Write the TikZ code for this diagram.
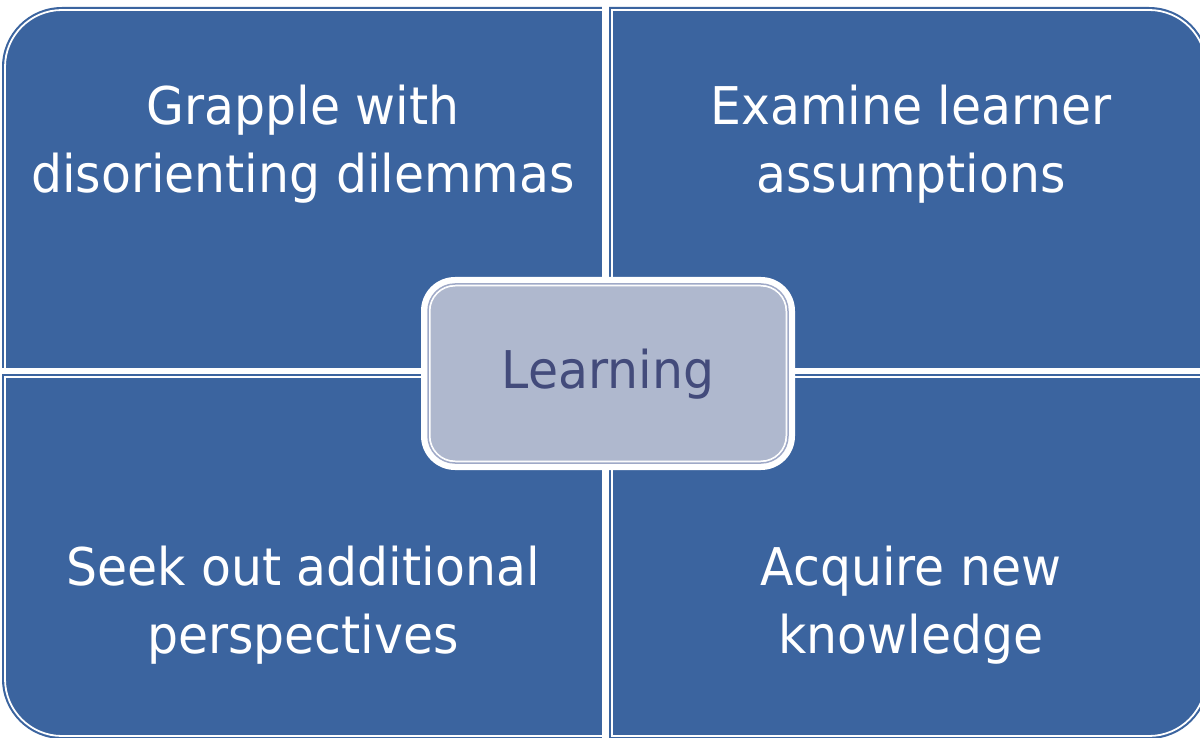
\documentclass[tikz,border=0pt]{standalone}
\usepackage{fontspec}
\newfontfamily\quadfont[FakeStretch=0.94]{DejaVu Sans}
\definecolor{quadblue}{HTML}{3B649F}
\definecolor{learnfill}{HTML}{AFB8CE}
\definecolor{learnline}{HTML}{9FA9C7}
\definecolor{learntext}{HTML}{434B7B}
\tikzset{
  quad/.style={fill=quadblue},
  quadinset/.style={draw=white, line width=1.8pt},
  quadtext/.style={text=white, align=center, inner sep=0pt, font=\quadfont\fontsize{52}{68}\selectfont},
  learnbox/.style={fill=learnfill, draw=white, line width=1pt, rounded corners=25pt,
    minimum width=356pt, minimum height=175pt, inner sep=0pt, text=learntext,
    font=\quadfont\fontsize{52}{68}\selectfont},
}
\begin{document}
\begin{tikzpicture}[x=1pt,y=-1pt]
\useasboundingbox (0,0) rectangle (1200,738);
\clip (0,0) rectangle (1200,738);
% quadrants
\fill[quad] (606,372) -- (2,372) -- (2,67) arc[start angle=180,end angle=270,radius=60] -- (606,7) -- cycle;
\draw[quadinset] (603,369) -- (5,369) -- (5,67) arc[start angle=180,end angle=270,radius=57] -- (603,10) -- cycle;
\fill[quad] (609,372) -- (609,7) -- (1149,7) arc[start angle=270,end angle=360,radius=60] -- (1209,372) -- cycle;
\draw[quadinset] (612,369) -- (612,10) -- (1149,10) arc[start angle=270,end angle=360,radius=57] -- (1206,369) -- cycle;
\fill[quad] (606,374) -- (2,374) -- (2,679) arc[start angle=180,end angle=90,radius=60] -- (606,739) -- cycle;
\draw[quadinset] (603,377) -- (5,377) -- (5,679) arc[start angle=180,end angle=90,radius=57] -- (603,736) -- cycle;
\fill[quad] (609,374) -- (1209,374) -- (1209,679) arc[start angle=0,end angle=90,radius=60] -- (609,739) -- cycle;
\draw[quadinset] (612,377) -- (1206,377) -- (1206,679) arc[start angle=0,end angle=90,radius=57] -- (612,736) -- cycle;
% separating bands
\fill[white] (602,0) rectangle (609,738);
\fill[white] (0,368) rectangle (1200,374);
% texts
\node[quadtext, anchor=base] (tl) at (303,193) {Grapple with\\disorienting dilemmas};
\node[quadtext, anchor=base] (tr) at (911,193) {Examine learner\\assumptions};
\node[quadtext, anchor=base] (bl) at (303,653) {Seek out additional\\perspectives};
\node[quadtext, anchor=base] (br) at (911,653) {Acquire new\\knowledge};
% center
\fill[white, rounded corners=34pt] (421,277) rectangle (795,470);
\draw[learnline, line width=1.5pt, rounded corners=27pt] (428,284) rectangle (788,463);
\node[learnbox] (learn) at (608,373.5) {};
\node[text=learntext, inner sep=0pt, anchor=base, font=\quadfont\fontsize{52}{68}\selectfont] (learntxt) at (608,388) {Learning};
\end{tikzpicture}
\end{document}
